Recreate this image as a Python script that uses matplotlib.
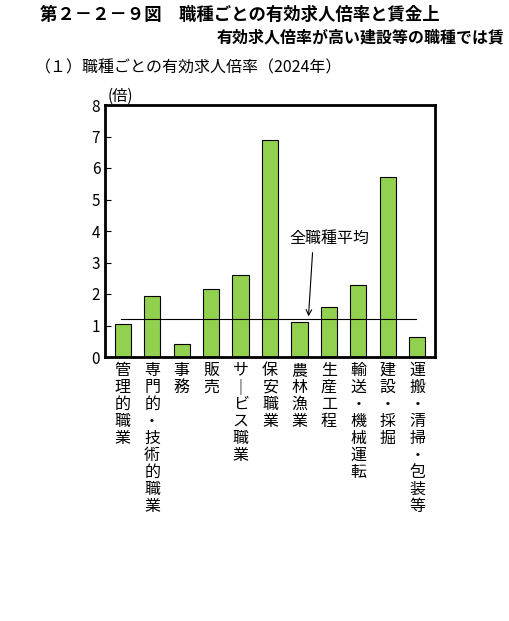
import matplotlib
matplotlib.use("Agg")
import matplotlib.pyplot as plt

plt.rcParams['font.family'] = ['Noto Sans CJK JP', 'DejaVu Sans']

categories = ["管理的職業", "専門的・技術的職業", "事務", "販売", "サ｜ビス職業", "保安職業",
              "農林漁業", "生産工程", "輸送・機械運転", "建設・採掘", "運搬・清掃・包装等"]
values = [1.05, 1.95, 0.4, 2.15, 2.6, 6.9, 1.1, 1.6, 2.3, 5.7, 0.65]
average = 1.2

fig = plt.figure(figsize=(5.09, 6.21), dpi=100)
ax = fig.add_axes([105/509, 1-357/621, 330/509, 252/621])
x = list(range(len(values)))
ax.bar(x, values, width=0.55, color="#92D050", edgecolor="black", linewidth=0.8, zorder=2)
ax.plot([-0.05, len(values)-1-0.05], [average, average], color="black", linewidth=0.8, zorder=3)
ax.set_xlim(-0.6, len(values)-0.4)
ax.set_ylim(0, 8)
ax.set_yticks(range(9))
ax.tick_params(axis='y', direction='in', labelsize=11, length=4)
ax.set_xticks([])
for s in ax.spines.values():
    s.set_linewidth(2)
for i, c in enumerate(categories):
    ax.text(i, -0.15, "\n".join(c), ha='center', va='top', fontsize=11.5, linespacing=1.0)
ax.annotate("", xy=(6.3, average), xytext=(6.45, 3.4),
            arrowprops=dict(arrowstyle='->', color='black', lw=0.8))
ax.text(7.0, 3.5, "全職種平均", ha='center', va='bottom', fontsize=11.5)
ax.text(-0.5, 8.02, "(倍)", ha='left', va='bottom', fontsize=11)

fig.text(40/509, 1-15/621, "第２－２－９図　職種ごとの有効求人倍率と賃金上", fontsize=12.5,
         fontweight='bold', ha='left', va='center')
fig.text(505/509, 1-38/621, "有効求人倍率が高い建設等の職種では賃", fontsize=11.5,
         fontweight='bold', ha='right', va='center')
fig.text(35/509, 1-68/621, "（１）職種ごとの有効求人倍率（2024年）", fontsize=11.5,
         ha='left', va='center')
fig.savefig("out.png", dpi=100)
